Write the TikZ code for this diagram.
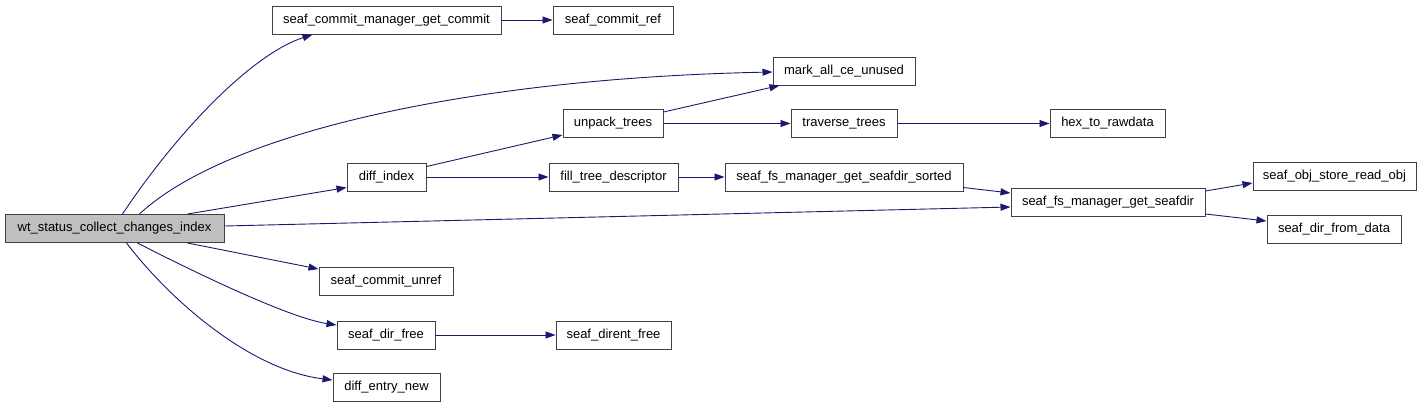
\documentclass[tikz,border=0pt]{standalone}
\usepackage{fontspec}
\setmainfont{Liberation Sans}
\usetikzlibrary{arrows.meta,calc}
\definecolor{edgecol}{HTML}{191970}
\definecolor{boxline}{HTML}{404040}
\definecolor{graybox}{HTML}{BFBFBF}
\tikzset{
  fn/.style={draw=boxline,line width=1pt,fill=white,inner sep=0pt,minimum height=28pt,font=\fontsize{13}{15}\selectfont,text=black},
  cur/.style={fn,fill=graybox},
  edge/.style={draw=edgecol,line width=0.9pt,-{Triangle[length=10pt,width=7pt]}}
}
\begin{document}
\begin{tikzpicture}[x=1pt,y=-1pt]
\useasboundingbox (0,0) rectangle (1421,408);
\node[cur,minimum width=219pt] (wt) at (114.5,228.5) {wt\_status\_collect\_changes\_index};
\node[fn,minimum width=229pt] (cmgc) at (386.5,20) {seaf\_commit\_manager\_get\_commit};
\node[fn,minimum width=120pt] (cref) at (613,20) {seaf\_commit\_ref};
\node[fn,minimum width=142pt] (mark) at (844,71) {mark\_all\_ce\_unused};
\node[fn,minimum width=100pt] (unpack) at (613,123.5) {unpack\_trees};
\node[fn,minimum width=106pt] (trav) at (844,123.5) {traverse\_trees};
\node[fn,minimum width=115pt] (hex) at (1107.5,123.5) {hex\_to\_rawdata};
\node[fn,minimum width=79pt] (didx) at (386.5,177) {diff\_index};
\node[fn,minimum width=129pt] (fill) at (613.5,177) {fill\_tree\_descriptor};
\node[fn,minimum width=238pt] (sorted) at (844,177) {seaf\_fs\_manager\_get\_seafdir\_sorted};
\node[fn,minimum width=194pt] (sdir) at (1108,202.5) {seaf\_fs\_manager\_get\_seafdir};
\node[fn,minimum width=163pt] (robj) at (1334.5,176) {seaf\_obj\_store\_read\_obj};
\node[fn,minimum width=134pt] (fdata) at (1334,229.5) {seaf\_dir\_from\_data};
\node[fn,minimum width=134pt] (unref) at (386,281) {seaf\_commit\_unref};
\node[fn,minimum width=98pt] (dfree) at (386,335) {seaf\_dir\_free};
\node[fn,minimum width=115pt] (defree) at (613.5,335) {seaf\_dirent\_free};
\node[fn,minimum width=107pt] (enew) at (386.5,387.5) {diff\_entry\_new};
% edges from wt
\draw[edge] ($(wt.north west)+(118,0)$) .. controls (175,135) and (250,55) .. ($(cmgc.south west)+(41,0)$);
\draw[edge] ($(wt.north west)+(135,0)$) .. controls (230,130) and (480,78) .. ($(mark.west)+(0,1)$);
\draw[edge] ($(wt.north west)+(183,0)$) -- ($(didx.south west)+(0,-4)$);
\draw[edge] ($(wt.east)+(0,-2.5)$) -- ($(sdir.west)+(0,4.5)$);
\draw[edge] ($(wt.south west)+(183,0)$) -- ($(unref.west)+(0,-12)$);
\draw[edge] ($(wt.south west)+(133,0)$) .. controls (200,275) and (290,318) .. ($(dfree.west)+(0,-10)$);
\draw[edge] ($(wt.south west)+(122,0)$) .. controls (170,300) and (250,370) .. ($(enew.west)+(0,-7.5)$);
% other edges
\draw[edge] (cmgc.east) -- (cref.west);
\draw[edge] ($(didx.north east)+(0,4)$) -- ($(unpack.south west)+(0,-3)$);
\draw[edge] (didx.east) -- (fill.west);
\draw[edge] ($(unpack.north east)+(0,3)$) -- ($(mark.south west)+(7,0)$);
\draw[edge] (unpack.east) -- (trav.west);
\draw[edge] (trav.east) -- (hex.west);
\draw[edge] (fill.east) -- (sorted.west);
\draw[edge] ($(sorted.south east)+(0,-4)$) -- ($(sdir.west)+(0,-9.5)$);
\draw[edge] ($(sdir.east)+(0,-11.5)$) -- ($(robj.west)+(0,7)$);
\draw[edge] ($(sdir.east)+(0,11.5)$) -- ($(fdata.west)+(0,-8.5)$);
\draw[edge] (dfree.east) -- (defree.west);
\end{tikzpicture}
\end{document}
